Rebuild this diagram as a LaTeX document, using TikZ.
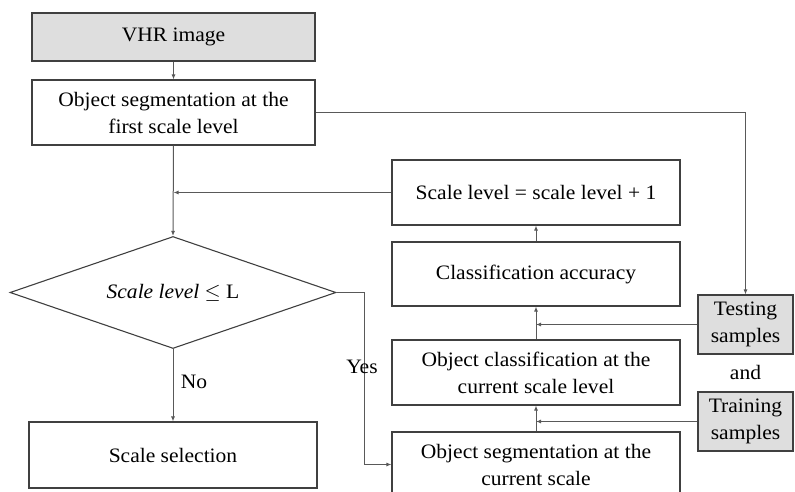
\documentclass[tikz,border=0pt]{standalone}
\usepackage{fontspec}
\setmainfont[FakeStretch=1.05]{Liberation Serif}
\usetikzlibrary{shapes.geometric,arrows.meta}
\begin{document}
\begin{tikzpicture}[x=1pt,y=-1pt,
  box/.style={draw=black!75,line width=1.1pt,minimum width=#1,inner sep=0pt,align=center,font=\fontsize{20.5}{27}\selectfont},
  box/.default=283pt,
  gbox/.style={box=95pt,fill=black!13},
  conn/.style={draw=black!65,line width=1pt},
  arr/.style={conn,-{Latex[length=5pt,width=4pt]}},
  lbl/.style={font=\fontsize{20.5}{24}\selectfont,inner sep=0pt}]
\useasboundingbox (0,0) rectangle (795,492);
\node[box,gbox,minimum width=283pt,minimum height=48pt] (vhr) at (173.5,37) {VHR image};
\node[box,minimum height=65pt] (seg1) at (173.5,112.5) {Object segmentation at the\\first scale level};
\node[box=288pt,minimum height=65pt] (inc) at (536,192.5) {Scale level = scale level + 1};
\node[box=288pt,minimum height=64pt] (acc) at (536,274) {Classification accuracy};
\node[box=288pt,minimum height=65pt] (cls) at (536,372.5) {Object classification at the\\current scale level};
\node[box=288pt,minimum height=65pt] (segc) at (536,464.5) {Object segmentation at the\\current scale};
\node[gbox,minimum height=59pt] (test) at (745.5,324.5) {Testing\\samples};
\node[gbox,minimum height=59pt] (train) at (745.5,421.5) {Training\\samples};
\node[lbl] (and) at (745.5,372) {and};
\node[diamond,draw=black!75,line width=1.1pt,minimum width=326pt,minimum height=112pt,aspect=2.9,inner sep=0pt,font=\fontsize{20.5}{24}\selectfont] (dia) at (173,292.5) {\textit{Scale level} $\leq$ L};
\node[box=288pt,minimum height=66pt] (sel) at (173,455) {Scale selection};
\coordinate (yc) at (364,292.5);
\draw[arr] (vhr) -- (seg1);
\draw[arr] (seg1.east) -| (test.north);
\draw[arr] (seg1.south) -- (dia.north);
\draw[arr] (inc.west) -- (inc.west -| seg1.south);
\draw[arr] (acc) -- (inc);
\draw[arr] (cls) -- (acc);
\draw[arr] (segc) -- (cls);
\draw[arr] (test.west) -- (test.west -| cls.north);
\draw[arr] (train.west) -- (train.west -| segc.north);
\draw[arr] (dia.east) -- (yc) |- (segc.west);
\draw[arr] (dia.south) -- (sel.north);
\node[lbl] (yes) at (362,367) {Yes};
\node[lbl] (no) at (194,382) {No};
\end{tikzpicture}
\end{document}
